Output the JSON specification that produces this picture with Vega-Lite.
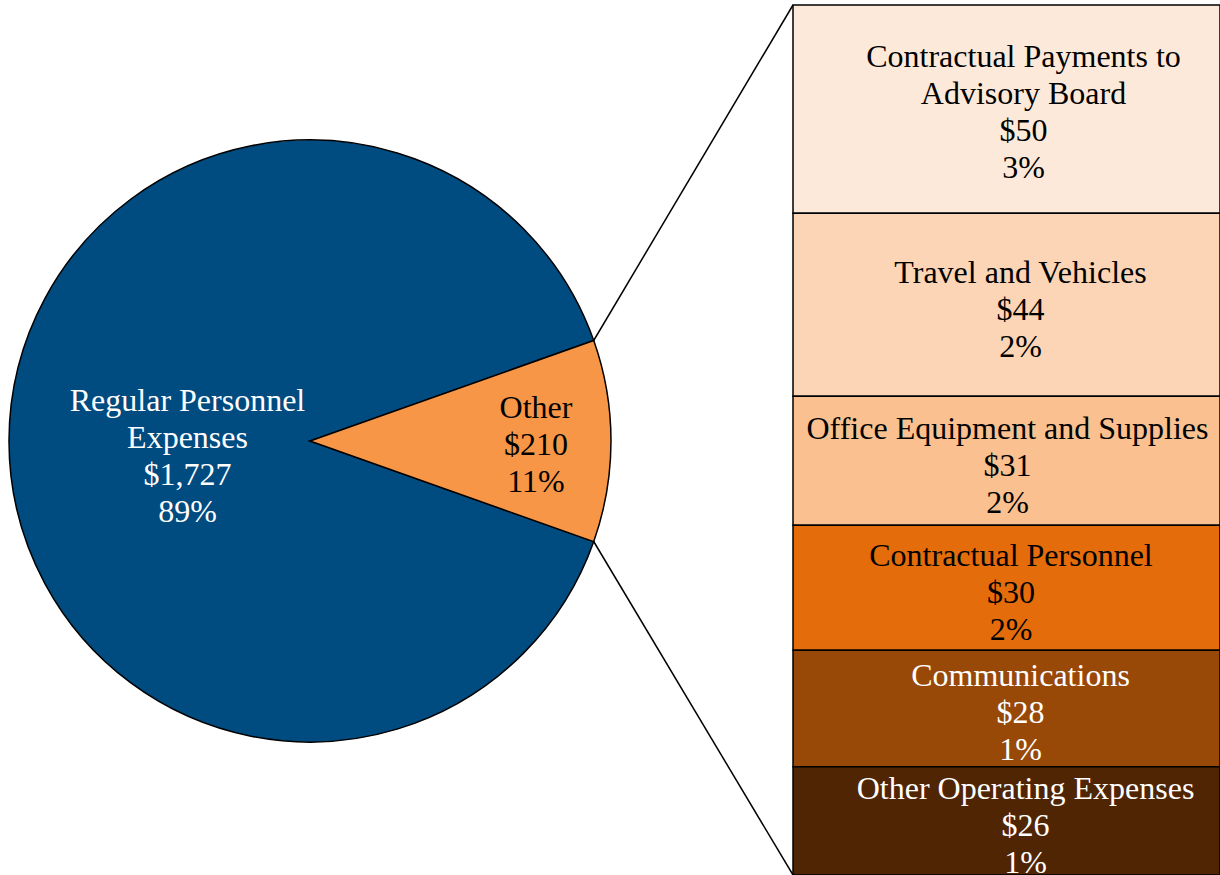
{
  "$schema": "https://vega.github.io/schema/vega-lite/v6.json",
  "width": 1220,
  "height": 875,
  "padding": 0,
  "autosize": "none",
  "background": "white",
  "config": {"view": {"stroke": null}},
  "datasets": {
    "pie": [
      {"name": "Regular Personnel\nExpenses", "amount": 1727, "pct": 89},
      {"name": "Other", "amount": 210, "pct": 11}
    ],
    "other": [
      {"group": "Other", "name": "Contractual Payments to\nAdvisory Board", "amount": 50, "pct": 3},
      {"group": "Other", "name": "Travel and Vehicles", "amount": 44, "pct": 2},
      {"group": "Other", "name": "Office Equipment and Supplies", "amount": 31, "pct": 2},
      {"group": "Other", "name": "Contractual Personnel", "amount": 30, "pct": 2},
      {"group": "Other", "name": "Communications", "amount": 28, "pct": 1},
      {"group": "Other", "name": "Other Operating Expenses", "amount": 26, "pct": 1}
    ]
  },
  "resolve": {"scale": {"color": "independent"}},
  "layer": [
    {
      "data": {"name": "pie"},
      "mark": {"type": "arc", "x": 310, "y": 441, "radius": 301, "stroke": "black", "strokeWidth": 1.5},
      "encoding": {
        "theta": {"field": "amount", "type": "quantitative", "stack": true, "scale": {"domain": [0, 1937], "range": [1.2305, 7.5137]}},
        "order": {"field": "amount", "sort": "ascending"},
        "color": {"field": "name", "type": "nominal", "legend": null, "scale": {"domain": ["Regular Personnel\nExpenses", "Other"], "range": ["#004B80", "#F79646"]}}
      }
    },
    {
      "data": {"name": "pie"},
      "transform": [{"calculate": "datum.name + '\\n' + format(datum.amount, '$,') + '\\n' + datum.pct + '%'", "as": "label"}],
      "mark": {"type": "text", "x": 310, "y": 441, "radius": {"expr": "datum.name == 'Other' ? 226 : 124"}, "dy": {"expr": "datum.name == 'Other' ? -33 : -40"}, "dx": {"expr": "datum.name == 'Other' ? 0 : 1.5"}, "lineBreak": "\n", "lineHeight": 37, "font": "Liberation Serif", "fontSize": 32, "align": "center", "baseline": "middle"},
      "encoding": {
        "theta": {"field": "amount", "type": "quantitative", "stack": true},
        "order": {"field": "amount", "sort": "ascending"},
        "text": {"field": "label", "type": "nominal"},
        "color": {"condition": {"test": "datum.name == 'Other'", "value": "black"}, "value": "white"}
      }
    },
    {
      "data": {"name": "pie"},
      "transform": [{"filter": "datum.name == 'Other'"}],
      "mark": {"type": "rule", "stroke": "black", "strokeWidth": 1.5},
      "encoding": {
        "x": {"value": 593.7},
        "y": {"value": 340.5},
        "x2": {"value": 793},
        "y2": {"value": 5}
      }
    },
    {
      "data": {"name": "pie"},
      "transform": [{"filter": "datum.name == 'Other'"}],
      "mark": {"type": "rule", "stroke": "black", "strokeWidth": 1.5},
      "encoding": {
        "x": {"value": 593.7},
        "y": {"value": 541.5},
        "x2": {"value": 793},
        "y2": {"value": 875}
      }
    },
    {
      "data": {"name": "other"},
      "mark": {"type": "bar", "stroke": "black", "strokeWidth": 1.5},
      "encoding": {
        "x": {"field": "group", "type": "nominal", "axis": null, "scale": {"range": [793, 1220], "paddingInner": 0, "paddingOuter": 0}},
        "y": {"field": "amount", "type": "quantitative", "stack": "zero", "axis": null, "scale": {"domain": [0, 210.2], "nice": false, "zero": true}},
        "order": {"field": "amount", "sort": "ascending"},
        "color": {"field": "name", "type": "nominal", "legend": null, "scale": {"domain": ["Contractual Payments to\nAdvisory Board", "Travel and Vehicles", "Office Equipment and Supplies", "Contractual Personnel", "Communications", "Other Operating Expenses"], "range": ["#FDE9D9", "#FBD5B5", "#FAC090", "#E46C0A", "#984807", "#4F2504"]}}
      }
    },
    {
      "data": {"name": "other"},
      "transform": [{"calculate": "datum.name + '\\n' + format(datum.amount, '$,') + '\\n' + datum.pct + '%'", "as": "label"}],
      "mark": {"type": "text", "lineBreak": "\n", "lineHeight": 37, "font": "Liberation Serif", "fontSize": 32, "align": "center", "baseline": "middle", "dy": {"expr": "length(split(datum.label, '\\n')) == 4 ? -52 : -32"}, "dx": {"expr": "datum.amount == 50 ? 17 : datum.amount == 44 ? 14 : datum.amount == 31 ? 1 : datum.amount == 30 ? 4.5 : datum.amount == 28 ? 14 : 19"}},
      "encoding": {
        "x": {"field": "group", "type": "nominal"},
        "y": {"field": "amount", "type": "quantitative", "stack": "zero", "bandPosition": 0.5},
        "detail": {"field": "name"},
        "order": {"field": "amount", "sort": "ascending"},
        "text": {"field": "label", "type": "nominal"},
        "color": {"condition": {"test": "datum.amount <= 28", "value": "white"}, "value": "black"}
      }
    }
  ]
}
